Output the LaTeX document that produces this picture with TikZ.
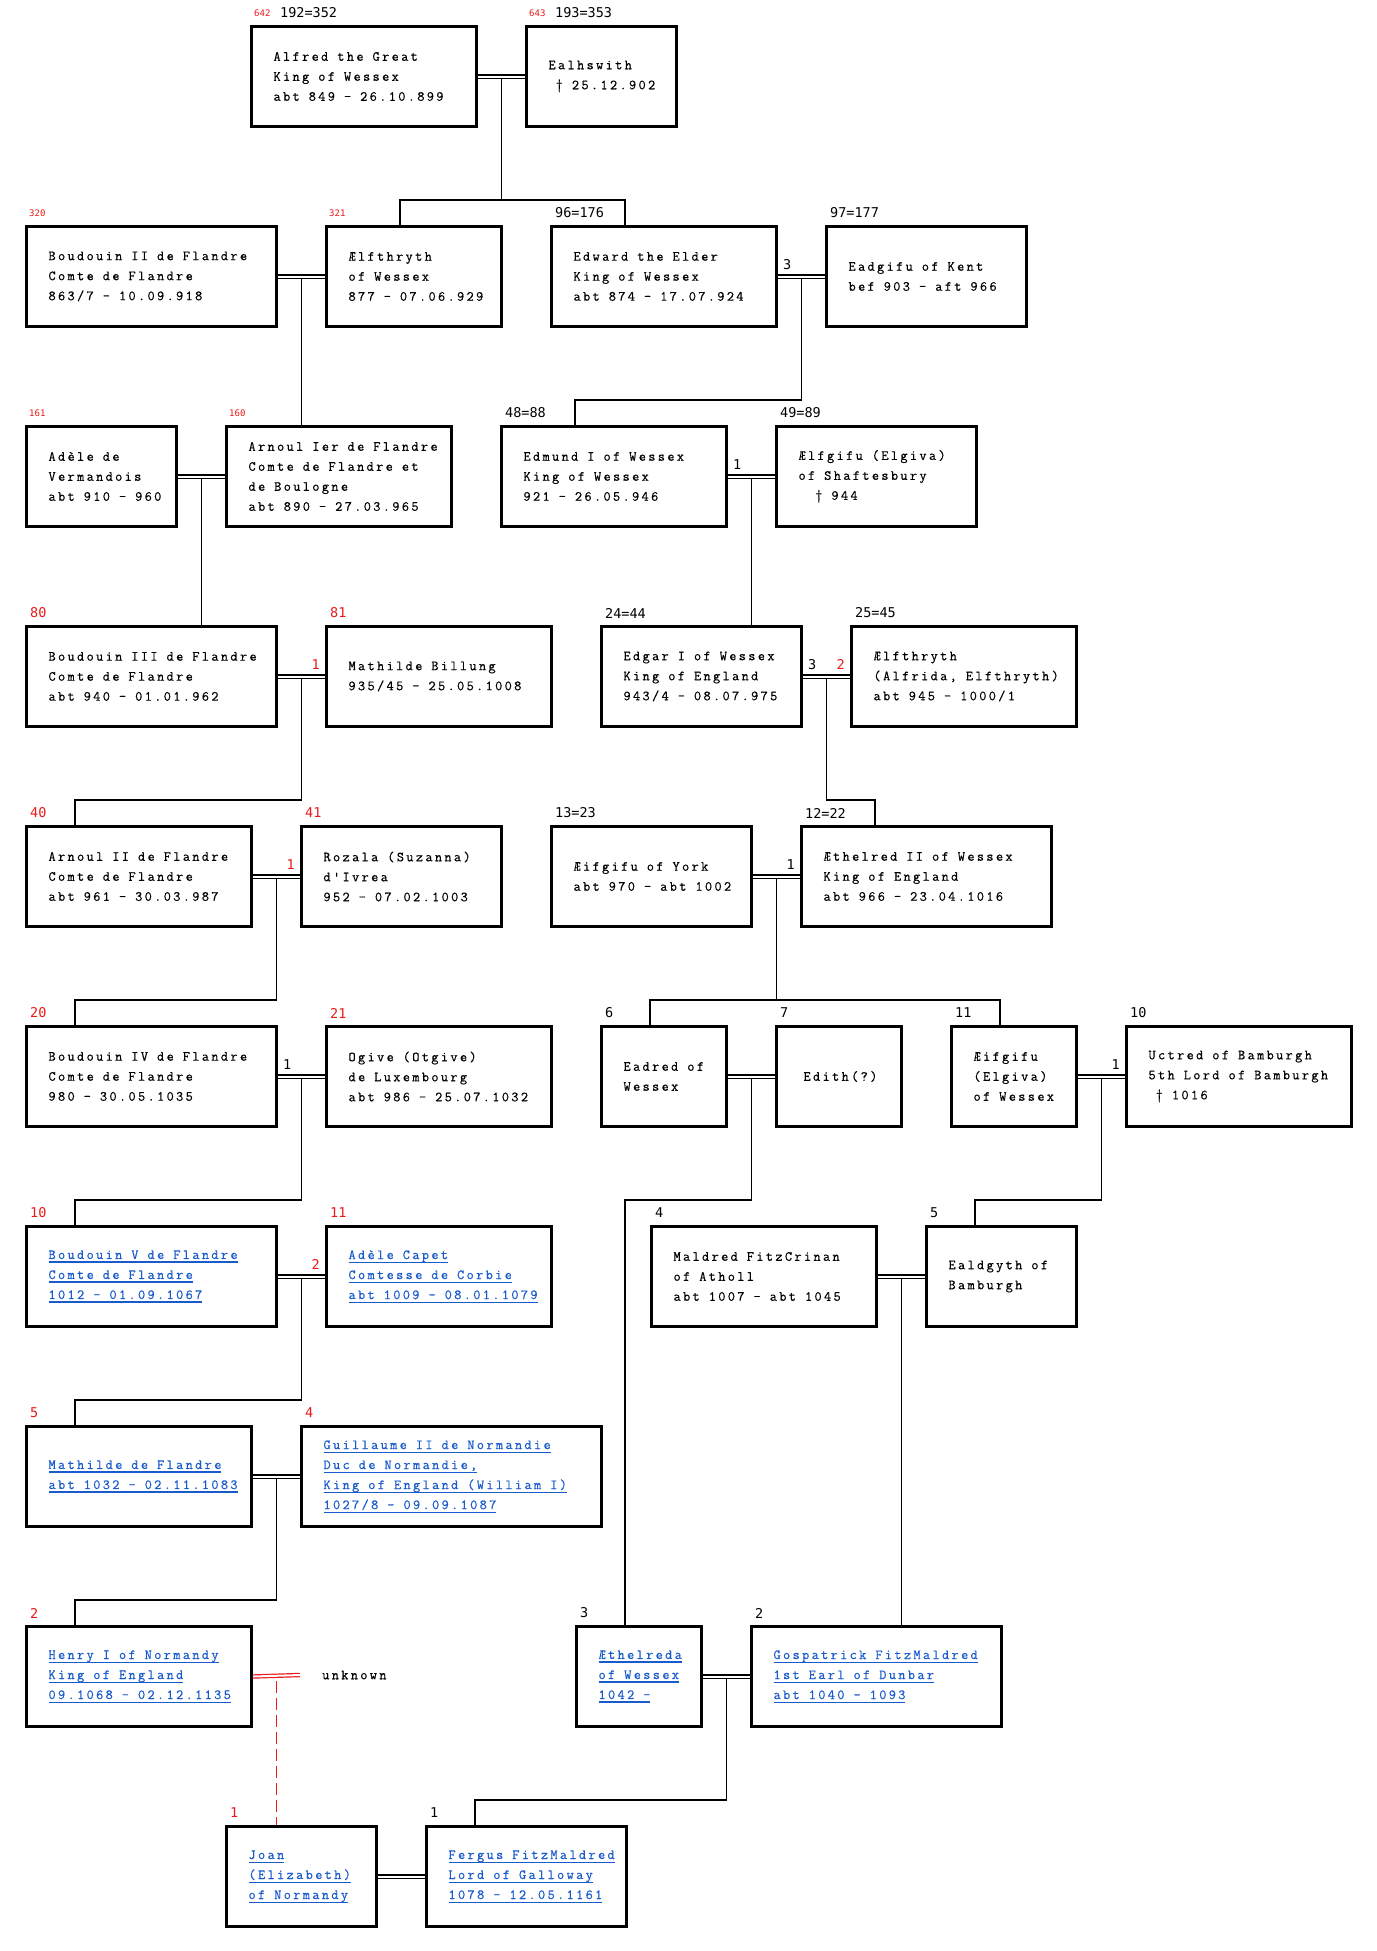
\documentclass[tikz,border=0pt]{standalone}
\usepackage{fontspec}
\usetikzlibrary{calc}
\newfontfamily\boxfnt{Latin Modern Mono}[LetterSpace=16.5,FakeBold=0.4]
\newfontfamily\labfnt{DejaVu Sans Mono}
\definecolor{gred}{RGB}{235,25,25}
\definecolor{gblue}{RGB}{25,90,205}
\newcommand\bfnt{\boxfnt\fontsize{14}{20}\selectfont}
\newcommand\ml[1]{\mbox{\spaceskip=9pt\relax#1}}
\newcommand\lk[1]{\leavevmode\setbox0\hbox{\spaceskip=9pt\relax#1}\rlap{\rule[-3.6pt]{\wd0}{1.1pt}}\box0}
\newcommand\kid[4]{\draw[conn] (#1) |- ($(#2.north west)+(#3,-#4)$) -- ($(#2.north west)+(#3,0)$);}
\newcommand\straight[2]{\draw[conn] (#1) -- (#1 |- #2.north);}
\begin{document}
\begin{tikzpicture}[x=1pt,y=-1pt,
 pbox/.style={draw, line width=3pt, rectangle, inner sep=0pt, minimum height=100pt, align=left, anchor=north west, font=\bfnt},
 bw/.code={\pgfmathsetmacro\tw{#1-44}\edef\tmp{\noexpand\pgfkeysalso{/tikz/minimum width=#1pt,/tikz/text width=\tw pt}}\tmp},
 link/.style={text=gblue},
 conn/.style={line width=1.6pt},
 marr/.style={draw=black, double=white, double distance=2pt, line width=1.2pt},
 rmarr/.style={draw=gred, double=white, double distance=2pt, line width=1.2pt},
 rdash/.style={draw=gred, line width=1.6pt, dash pattern=on 12pt off 5pt},
 lab/.style={anchor=west, inner sep=0pt, font=\labfnt\fontsize{13.5}{14}\selectfont},
 rlab/.style={lab, text=gred},
 tinylab/.style={anchor=west, inner sep=0pt, text=gred, font=\labfnt\fontsize{9}{10}\selectfont},
 mnl/.style={lab, anchor=west},
 mnr/.style={lab, anchor=east},
 plain/.style={anchor=west, inner sep=0pt, font=\bfnt},
]
\fill[white] (0,0) rectangle (1376,1951);
\useasboundingbox (0,0) rectangle (1376,1951);

% Row 0
\node[pbox,bw=225] (alfred) at (250,25) {\ml{Alfred the Great}\\\ml{King of Wessex}\\\ml{abt 849 - 26.10.899}};
\node[pbox,bw=150] (ealh) at (525,25) {\ml{Ealhswith}\\\ml{\hphantom{0}† 25.12.902}};
% Row 1
\node[pbox,bw=250] (bou2) at (25,225) {\ml{Boudouin II de Flandre}\\\ml{Comte de Flandre}\\\ml{863/7 - 10.09.918}};
\node[pbox,bw=175] (aelf1) at (325,225) {\ml{Ælfthryth}\\\ml{of Wessex}\\\ml{877 - 07.06.929}};
\node[pbox,bw=225] (edw) at (550,225) {\ml{Edward the Elder}\\\ml{King of Wessex}\\\ml{abt 874 - 17.07.924}};
\node[pbox,bw=200] (eadg) at (825,225) {\ml{Eadgifu of Kent}\\\ml{bef 903 - aft 966}};
% Row 2
\node[pbox,bw=150] (adele) at (25,425) {\ml{Adèle de}\\\ml{Vermandois}\\\ml{abt 910 - 960}};
\node[pbox,bw=225] (arn1) at (225,425) {\ml{Arnoul Ier de Flandre}\\\ml{Comte de Flandre et}\\\ml{de Boulogne}\\\ml{abt 890 - 27.03.965}};
\node[pbox,bw=225] (edm) at (500,425) {\ml{Edmund I of Wessex}\\\ml{King of Wessex}\\\ml{921 - 26.05.946}};
\node[pbox,bw=200] (aelg) at (775,425) {\ml{Ælfgifu (Elgiva)}\\\ml{of Shaftesbury}\\\ml{\hphantom{00}† 944}};
% Row 3
\node[pbox,bw=250] (bou3) at (25,625) {\ml{Boudouin III de Flandre}\\\ml{Comte de Flandre}\\\ml{abt 940 - 01.01.962}};
\node[pbox,bw=225] (mathb) at (325,625) {\ml{Mathilde Billung}\\\ml{935/45 - 25.05.1008}};
\node[pbox,bw=200] (edgar) at (600,625) {\ml{Edgar I of Wessex}\\\ml{King of England}\\\ml{943/4 - 08.07.975}};
\node[pbox,bw=225] (aelf2) at (850,625) {\ml{Ælfthryth}\\\ml{(Alfrida, Elfthryth)}\\\ml{abt 945 - 1000/1}};
% Row 4
\node[pbox,bw=225] (arn2) at (25,825) {\ml{Arnoul II de Flandre}\\\ml{Comte de Flandre}\\\ml{abt 961 - 30.03.987}};
\node[pbox,bw=200] (rozala) at (300,825) {\ml{Rozala (Suzanna)}\\\ml{d'Ivrea}\\\ml{952 - 07.02.1003}};
\node[pbox,bw=200] (aelfy) at (550,825) {\ml{Æifgifu of York}\\\ml{abt 970 - abt 1002}};
\node[pbox,bw=250] (aethr) at (800,825) {\ml{Æthelred II of Wessex}\\\ml{King of England}\\\ml{abt 966 - 23.04.1016}};
% Row 5
\node[pbox,bw=250] (bou4) at (25,1025) {\ml{Boudouin IV de Flandre}\\\ml{Comte de Flandre}\\\ml{980 - 30.05.1035}};
\node[pbox,bw=225] (ogive) at (325,1025) {\ml{Ogive (Otgive)}\\\ml{de Luxembourg}\\\ml{abt 986 - 25.07.1032}};
\node[pbox,bw=125] (eadred) at (600,1025) {\ml{Eadred of}\\\ml{Wessex}};
\node[pbox,bw=125] (edith) at (775,1025) {\ml{\hspace*{5pt}Edith(?)}};
\node[pbox,bw=125] (aelfw) at (950,1025) {\ml{Æifgifu}\\\ml{(Elgiva)}\\\ml{of Wessex}};
\node[pbox,bw=225] (uctred) at (1125,1025) {\ml{Uctred of Bamburgh}\\\ml{5th Lord of Bamburgh}\\\ml{\hphantom{0}† 1016}};
% Row 6
\node[pbox,link,bw=250] (bou5) at (25,1225) {\lk{Boudouin V de Flandre}\\\lk{Comte de Flandre}\\\lk{1012 - 01.09.1067}};
\node[pbox,link,bw=225] (adcap) at (325,1225) {\lk{Adèle Capet}\\\lk{Comtesse de Corbie}\\\lk{abt 1009 - 08.01.1079}};
\node[pbox,bw=225] (maldred) at (650,1225) {\ml{Maldred FitzCrinan}\\\ml{of Atholl}\\\ml{abt 1007 - abt 1045}};
\node[pbox,bw=150] (ealdg) at (925,1225) {\ml{Ealdgyth of}\\\ml{Bamburgh}};
% Row 7
\node[pbox,link,bw=225] (mathf) at (25,1425) {\lk{Mathilde de Flandre}\\\lk{abt 1032 - 02.11.1083}};
\node[pbox,link,bw=300] (guil) at (300,1425) {\lk{Guillaume II de Normandie}\\\lk{Duc de Normandie,}\\\lk{King of England (William I)}\\\lk{1027/8 - 09.09.1087}};
% Row 8
\node[pbox,link,bw=225] (henry) at (25,1625) {\lk{Henry I of Normandy}\\\lk{King of England}\\\lk{09.1068 - 02.12.1135}};
\node[plain] (unknown) at (322,1675) {unknown};
\coordinate (unkL) at (300,1675);
\node[pbox,link,bw=125] (aethra) at (575,1625) {\lk{Æthelreda}\\\lk{of Wessex}\\\lk{1042 -}};
\node[pbox,link,bw=250] (gosp) at (750,1625) {\lk{Gospatrick FitzMaldred}\\\lk{1st Earl of Dunbar}\\\lk{abt 1040 - 1093}};
% Row 9
\node[pbox,link,bw=150] (joan) at (225,1825) {\lk{Joan}\\\lk{(Elizabeth)}\\\lk{of Normandy}};
\node[pbox,link,bw=200] (fergus) at (425,1825) {\lk{Fergus FitzMaldred}\\\lk{Lord of Galloway}\\\lk{1078 - 12.05.1161}};

% top labels
\node[tinylab] (t1) at ($(alfred.north west)+(4,-12)$) {642};
\node[lab] (l1) at ($(alfred.north west)+(30,-12)$) {192=352};
\node[tinylab] (t2) at ($(ealh.north west)+(4,-12)$) {643};
\node[lab] (l2) at ($(ealh.north west)+(30,-12)$) {193=353};
\node[tinylab] (t3) at ($(bou2.north west)+(4,-12)$) {320};
\node[tinylab] (t4) at ($(aelf1.north west)+(4,-12)$) {321};
\node[lab] (l5) at ($(edw.north west)+(5,-12)$) {96=176};
\node[lab] (l6) at ($(eadg.north west)+(5,-12)$) {97=177};
\node[tinylab] (t7) at ($(adele.north west)+(4,-12)$) {161};
\node[tinylab] (t8) at ($(arn1.north west)+(4,-12)$) {160};
\node[lab] (l9) at ($(edm.north west)+(5,-12)$) {48=88};
\node[lab] (l10) at ($(aelg.north west)+(5,-12)$) {49=89};
\node[rlab] (l11) at ($(bou3.north west)+(5,-12)$) {80};
\node[rlab] (l12) at ($(mathb.north west)+(5,-12)$) {81};
\node[lab] (l13) at ($(edgar.north west)+(5,-12)$) {24=44};
\node[lab] (l14) at ($(aelf2.north west)+(5,-12)$) {25=45};
\node[rlab] (l15) at ($(arn2.north west)+(5,-12)$) {40};
\node[rlab] (l16) at ($(rozala.north west)+(5,-12)$) {41};
\node[lab] (l17) at ($(aelfy.north west)+(5,-12)$) {13=23};
\node[lab] (l18) at ($(aethr.north west)+(5,-12)$) {12=22};
\node[rlab] (l19) at ($(bou4.north west)+(5,-12)$) {20};
\node[rlab] (l20) at ($(ogive.north west)+(5,-12)$) {21};
\node[lab] (l21) at ($(eadred.north west)+(5,-12)$) {6};
\node[lab] (l22) at ($(edith.north west)+(5,-12)$) {7};
\node[lab] (l23) at ($(aelfw.north west)+(5,-12)$) {11};
\node[lab] (l24) at ($(uctred.north west)+(5,-12)$) {10};
\node[rlab] (l25) at ($(bou5.north west)+(5,-12)$) {10};
\node[rlab] (l26) at ($(adcap.north west)+(5,-12)$) {11};
\node[lab] (l27) at ($(maldred.north west)+(5,-12)$) {4};
\node[lab] (l28) at ($(ealdg.north west)+(5,-12)$) {5};
\node[rlab] (l29) at ($(mathf.north west)+(5,-12)$) {5};
\node[rlab] (l30) at ($(guil.north west)+(5,-12)$) {4};
\node[rlab] (l31) at ($(henry.north west)+(5,-12)$) {2};
\node[lab] (l32) at ($(aethra.north west)+(5,-12)$) {3};
\node[lab] (l33) at ($(gosp.north west)+(5,-12)$) {2};
\node[rlab] (l34) at ($(joan.north west)+(5,-12)$) {1};
\node[lab] (l35) at ($(fergus.north west)+(5,-12)$) {1};

% marriage numbers
\node[mnl] (n1) at ($(edw.east)+(5,-12)$) {3};
\node[mnl] (n2) at ($(edm.east)+(5,-12)$) {1};
\node[mnr,text=gred] (n3) at ($(mathb.west)+(-5,-12)$) {1};
\node[mnl] (n4) at ($(edgar.east)+(5,-12)$) {3};
\node[mnr,text=gred] (n5) at ($(aelf2.west)+(-5,-12)$) {2};
\node[mnr,text=gred] (n6) at ($(rozala.west)+(-5,-12)$) {1};
\node[mnr] (n7) at ($(aethr.west)+(-5,-12)$) {1};
\node[mnl] (n8) at ($(bou4.east)+(5,-12)$) {1};
\node[mnr] (n9) at ($(uctred.west)+(-5,-12)$) {1};
\node[mnr,text=gred] (n10) at ($(adcap.west)+(-5,-12)$) {2};

% marriage midpoints
\path (alfred.east) -- (ealh.west) coordinate[midway] (m1);
\path (bou2.east) -- (aelf1.west) coordinate[midway] (m2);
\path (edw.east) -- (eadg.west) coordinate[midway] (m3);
\path (adele.east) -- (arn1.west) coordinate[midway] (m4);
\path (edm.east) -- (aelg.west) coordinate[midway] (m5);
\path (bou3.east) -- (mathb.west) coordinate[midway] (m6);
\path (edgar.east) -- (aelf2.west) coordinate[midway] (m7);
\path (arn2.east) -- (rozala.west) coordinate[midway] (m8);
\path (aelfy.east) -- (aethr.west) coordinate[midway] (m9);
\path (bou4.east) -- (ogive.west) coordinate[midway] (m10);
\path (eadred.east) -- (edith.west) coordinate[midway] (m11);
\path (aelfw.east) -- (uctred.west) coordinate[midway] (m12);
\path (bou5.east) -- (adcap.west) coordinate[midway] (m13);
\path (maldred.east) -- (ealdg.west) coordinate[midway] (m14);
\path (mathf.east) -- (guil.west) coordinate[midway] (m15);
\path (henry.east) -- (unkL) coordinate[midway] (m16);
\path (aethra.east) -- (gosp.west) coordinate[midway] (m17);

% descent connectors
\kid{m1}{aelf1}{75}{25}
\kid{m1}{edw}{75}{25}
\straight{m2}{arn1}
\kid{m3}{edm}{75}{25}
\straight{m4}{bou3}
\straight{m5}{edgar}
\kid{m6}{arn2}{50}{25}
\kid{m7}{aethr}{75}{25}
\kid{m8}{bou4}{50}{25}
\kid{m9}{eadred}{50}{25}
\kid{m9}{aelfw}{50}{25}
\kid{m10}{bou5}{50}{25}
\kid{m11}{aethra}{50}{425}
\kid{m12}{ealdg}{50}{25}
\kid{m13}{mathf}{50}{25}
\straight{m14}{gosp}
\kid{m15}{henry}{50}{25}
\draw[rdash] ($(m16)+(0,5)$) -- (m16 |- joan.north);
\kid{m17}{fergus}{50}{25}

% marriage double lines
\draw[marr] (alfred.east) -- (ealh.west);
\draw[marr] (bou2.east) -- (aelf1.west);
\draw[marr] (edw.east) -- (eadg.west);
\draw[marr] (adele.east) -- (arn1.west);
\draw[marr] (edm.east) -- (aelg.west);
\draw[marr] (bou3.east) -- (mathb.west);
\draw[marr] (edgar.east) -- (aelf2.west);
\draw[marr] (arn2.east) -- (rozala.west);
\draw[marr] (aelfy.east) -- (aethr.west);
\draw[marr] (bou4.east) -- (ogive.west);
\draw[marr] (eadred.east) -- (edith.west);
\draw[marr] (aelfw.east) -- (uctred.west);
\draw[marr] (bou5.east) -- (adcap.west);
\draw[marr] (maldred.east) -- (ealdg.west);
\draw[marr] (mathf.east) -- (guil.west);
\draw[rmarr] (henry.east) -- (unkL);
\draw[marr] (aethra.east) -- (gosp.west);
\draw[marr] (joan.east) -- (fergus.west);
\end{tikzpicture}
\end{document}
